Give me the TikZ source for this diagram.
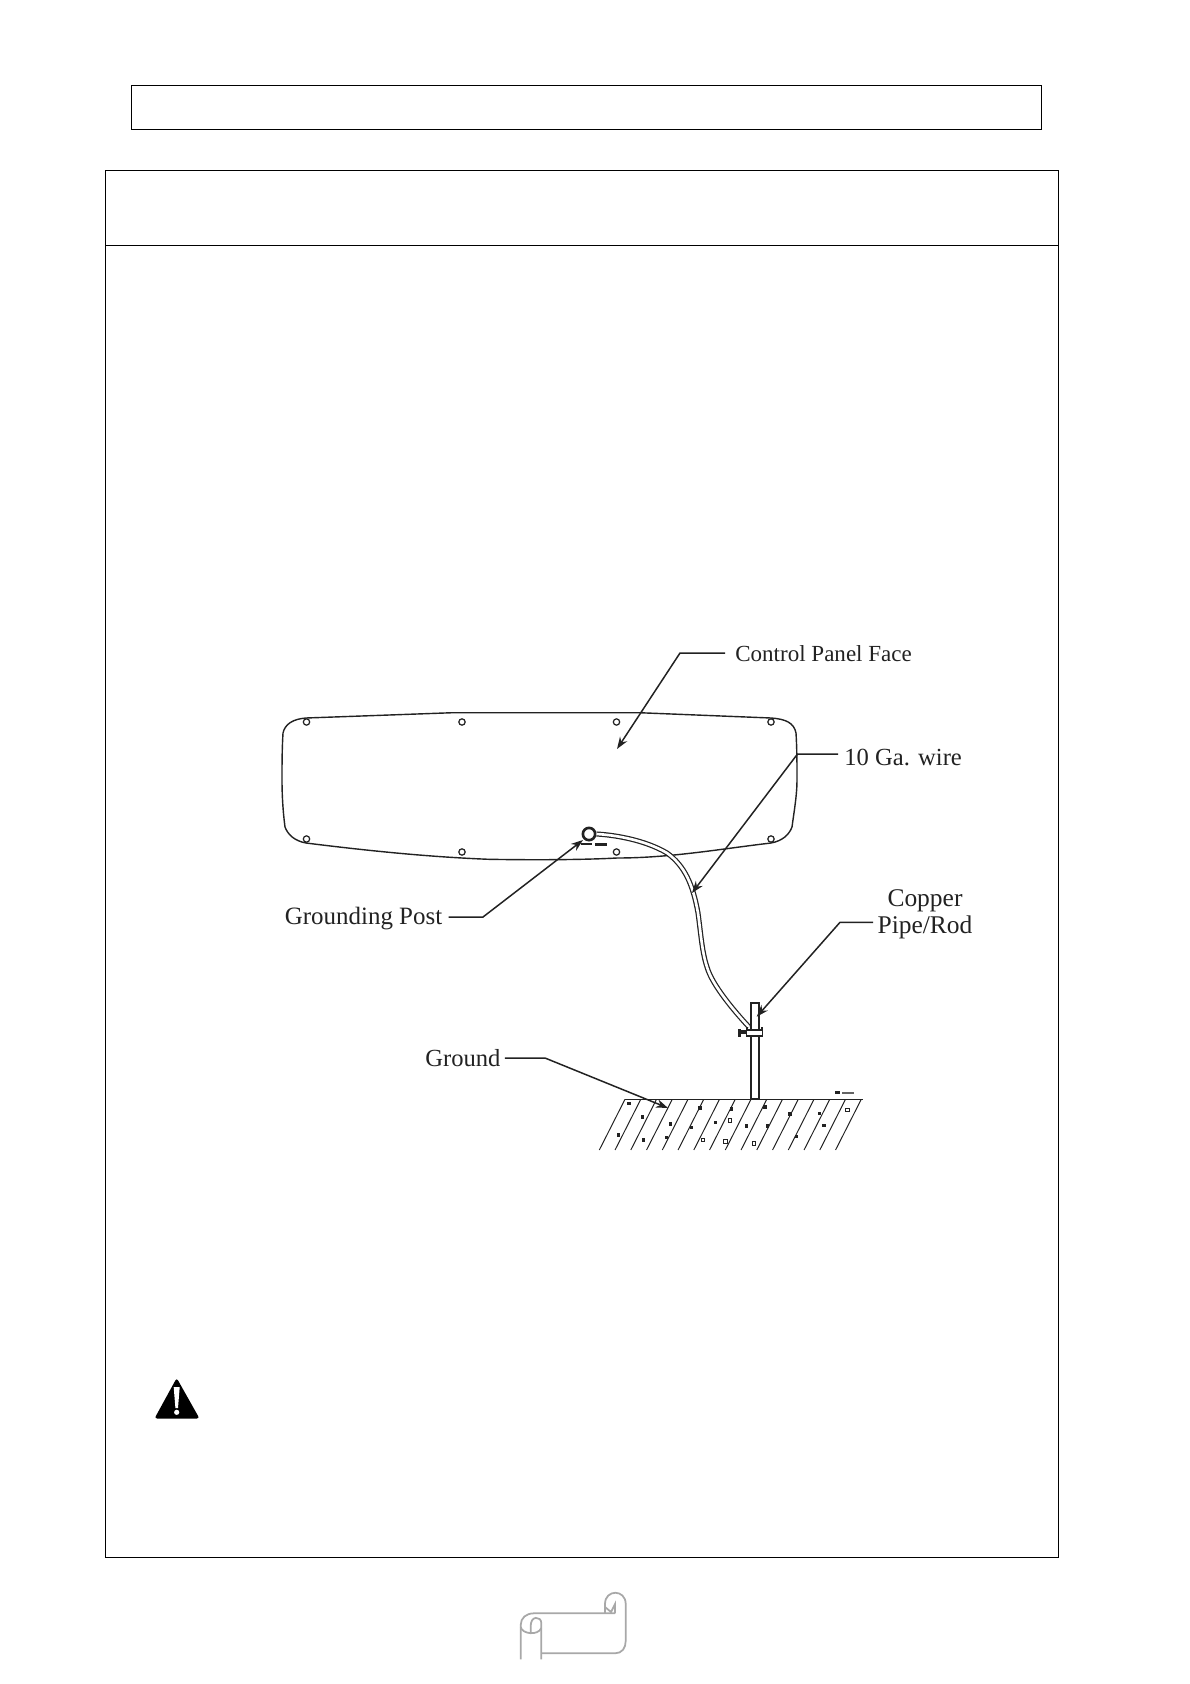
\documentclass[tikz,border=0pt]{standalone}
\usepackage{fontspec}
\setmainfont{Liberation Serif}
\usepackage{xcolor}
\usetikzlibrary{positioning,arrows.meta,calc}
\definecolor{inkgrey}{HTML}{222222}
\definecolor{scrollgrey}{HTML}{A8A8A8}
\tikzset{
  frame/.style   = {draw=black, line width=0.4pt},
  outline/.style = {draw=inkgrey, line width=0.8pt},
  screw/.style   = {circle, draw=inkgrey, line width=0.7pt, inner sep=0pt, minimum size=3.6pt},
  callout/.style = {font=\fontsize{14}{16}\selectfont, text=inkgrey, inner sep=0pt, align=center},
  leader/.style  = {draw=inkgrey, line width=0.85pt, -{Stealth[length=2.4mm,width=1.7mm]}},
  wire/.style    = {draw=inkgrey, line width=0.7pt, double=white, double distance=1.5pt},
  hatch/.style   = {draw=inkgrey, line width=0.55pt},
  scroll/.style  = {draw=scrollgrey, line width=1pt},
}

\begin{document}
\begin{tikzpicture}[x=0.2mm, y=-0.2mm]
  \useasboundingbox (0,0) rectangle (1190,1684);

  % page frames
  \draw[frame] (131,85) rectangle (1041,129);
  \draw[frame] (105,170) rectangle (1058.5,1557);
  \draw[frame] (105,245) -- (1058.5,245);

  % panel face
  \draw[outline] (283,733) .. controls (285,724) and (293,719) .. (306,718)
    -- (453,712.7) -- (639,712.7) -- (771,718)
    .. controls (786,719) and (794,723) .. (796,733)
    .. controls (797,750) and (797,765) .. (797,780)
    .. controls (797,795) and (794,812) .. (792,827)
    .. controls (789,835) and (782,841) .. (771,843)
    .. controls (720,849) and (670,858) .. (617,858)
    .. controls (580,860) and (530,860) .. (489,859.3)
    .. controls (430,857) and (370,851) .. (306,843)
    .. controls (295,841) and (288,835) .. (285,827)
    .. controls (283,812) and (282,795) .. (282,780)
    .. controls (282,765) and (282,750) .. (283,733) -- cycle;
  \foreach \x/\y/\n in {306.5/722/a, 462/722/b, 616.5/722/c, 771/722/d, 306.5/839/e, 462/852/f, 616.5/852/g, 771/839/h} {
    \node[screw] (screw\n) at (\x,\y) {};
  }

  % grounding post and wire
  \node[circle, draw=inkgrey, line width=1.5pt, inner sep=0pt, minimum size=7pt] (post) at (589,834) {};
  \draw[wire] (post.east) .. controls (615,835) and (645,840) .. (667,853)
    .. controls (685,866) and (693,885) .. (698,913)
    .. controls (701,935) and (702,952) .. (707,967)
    .. controls (712,985) and (735,1012) .. (749,1027);
  \draw[draw=inkgrey, line width=0.7pt] (581,844) -- (592,844);
  \fill[inkgrey] (595,843) rectangle (607,846);

  % copper rod and clamp
  \draw[outline, fill=white] (751,1003) rectangle (759,1099);
  \draw[outline, fill=white] (746.7,1030) rectangle (762.3,1036);
  \draw[outline] (747,1030) -- (747,1027) (762,1030) -- (762,1027);
  \draw[outline] (741,1031) -- (746.7,1031) (741,1033) -- (746.7,1033);
  \fill[inkgrey] (737.5,1029) rectangle (741,1037);

  % ground surface
  \draw[outline] (625,1099.3) -- (863,1099.3);
  \foreach \i in {0,...,15} {
    \draw[hatch] (625+15.75*\i,1099.3) -- (599.3+15.75*\i,1150);
  }
  \foreach \x/\y in {207/670,247/711,175/765,251/780,332/732,320/773,395/743,420/684,467/727,515/687,560/738,622/738,615/681,690/702,778/700,792/736,710/770} {
    \fill[inkgrey] ({560+\x/3-1.6},{880+\y/3-1.6}) rectangle ++(3.2,3.2);
  }
  \foreach \x/\y in {510/722,429/780,497/785,582/790,862/690} {
    \draw[draw=inkgrey, line width=0.55pt] ({560+\x/3-1.9},{880+\y/3-1.9}) rectangle ++(3.8,3.8);
  }
  \fill[inkgrey] (835,1091) rectangle (840,1094);
  \fill[inkgrey!70] (842,1092) rectangle (854,1094);

  % callouts
  \node[callout, anchor=west, font=\fontsize{13.1}{16}\selectfont] (lblpanel) at (735,654) {Control Panel Face};
  \node[callout, anchor=west] (lblwire) at (844,757) {10 Ga. wire};
  \node[callout, anchor=west, font=\fontsize{14.2}{16}\selectfont] (lblpost) at (284.5,919) {Grounding Post};
  \node[callout, anchor=west] (lblground) at (425,1058) {Ground};
  \node[callout, font=\fontsize{14.5}{15.6}\selectfont] (lblrod) at (925,914.5) {Copper\\Pipe/Rod};

  \coordinate (tippanel) at (617,749);
  \coordinate (tipwire) at (692,893);
  \coordinate (tippost) at (583,840);
  \coordinate (tiprod) at (756.7,1016.7);
  \coordinate (tipground) at (668,1108);
  \coordinate (elbowrod) at (840,922.3);

  \draw[leader] ($(lblpanel.west)+(-10,-1)$) -- (680,653) -- (tippanel);
  \draw[leader] ($(lblwire.west)+(-6,-3)$) -- (797.5,754) -- (tipwire);
  \draw[leader] ($(lblpost.east)+(6,-2)$) -- (483,917) -- (tippost);
  \draw[leader] ($(lblground.east)+(4,0)$) -- (545,1058) -- (tipground);
  \draw[leader] ($(lblrod.west |- elbowrod)+(-4,0)$) -- (elbowrod) -- (tiprod);

  % warning sign
  \fill[black, rounded corners=1.5pt] (176.7,1378) -- (199.5,1418.5) -- (154.5,1418.5) -- cycle;
  \fill[white] (173.7,1387) -- (179.7,1387) -- (178,1408) -- (175.4,1408) -- cycle;
  \fill[white] (176.7,1412.3) circle (2.6);

  % page scroll
  \draw[scroll] (520.7,1659.3) -- (520.7,1625) .. controls (520.7,1618) and (526,1613.3) .. (534,1613.3) -- (615,1613.3);
  \draw[scroll] (541.3,1659.3) -- (541.3,1623) .. controls (541.3,1616) and (530,1615) .. (530.7,1627) -- (530.7,1633);
  \draw[scroll] (520.7,1627) .. controls (522,1634) and (538,1636) .. (541.3,1628);
  \draw[scroll] (541.3,1653.3) -- (615,1653.3) .. controls (622,1653.3) and (625.7,1648) .. (625.7,1641) -- (625.7,1604);
  \draw[scroll] (605,1613.3) -- (605,1604) .. controls (605,1589) and (625.7,1589) .. (625.7,1604);
  \draw[scroll] (605,1607) -- (611,1612) -- (615,1604) -- (615,1613.3);
\end{tikzpicture}
\end{document}
